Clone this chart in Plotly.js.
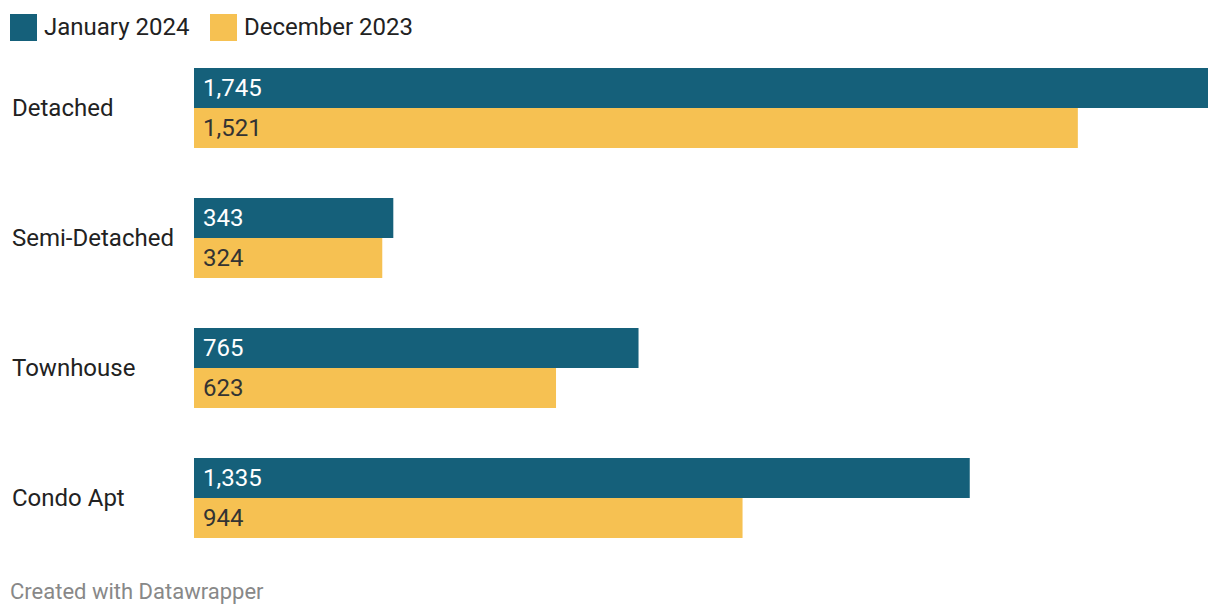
<!DOCTYPE html>
<html>
<head>
<meta charset="utf-8">
<script src="https://cdn.plot.ly/plotly-3.0.1.min.js"></script>
<style>
  html, body { margin: 0; padding: 0; background: #ffffff; }
  #chart { width: 1220px; height: 616px; }
</style>
</head>
<body>
<div id="chart"></div>
<script>
const categories = ["Detached", "Semi-Detached", "Townhouse", "Condo Apt"];
const seriesNames = ["January 2024", "December 2023"];
const jan2024 = [1745, 343, 765, 1335];
const dec2023 = [1521, 324, 623, 944];

const colors = ["#15607a", "#f6c152"];
const textColors = ["#ffffff", "#333333"];
const FONT = "Roboto, sans-serif";

const W = 1220, H = 616;
const M = { l: 194, r: 12, t: 43, b: 53 };
const PW = W - M.l - M.r, PH = H - M.t - M.b;
const px = x => (x - 2 - M.l) / PW;
const py = y => (H - M.b - y) / PH;
const rx = x => (x - M.l) / PW;

const traces = [jan2024, dec2023].map((vals, i) => ({
  type: "bar",
  orientation: "h",
  name: seriesNames[i],
  y: categories,
  x: vals,
  marker: { color: colors[i], line: { width: 0 } },
  texttemplate: "\u00a0%{x:,}",
  textposition: "inside",
  insidetextanchor: "start",
  textangle: 0,
  textfont: { family: FONT, size: 24, color: textColors[i] },
  constraintext: "none",
  hoverinfo: "skip",
  showlegend: false
}));

const annotations = categories.map(c => ({
  xref: "paper", yref: "y", x: px(12), y: c, xanchor: "left", yanchor: "middle",
  text: c, showarrow: false, font: { family: FONT, size: 24, color: "#222222" }
}));

const legendX = [10, 210];
const shapes = [];
seriesNames.forEach((n, i) => {
  shapes.push({
    type: "rect", xref: "paper", yref: "paper",
    x0: rx(legendX[i]), x1: rx(legendX[i] + 27), y0: py(41), y1: py(14),
    fillcolor: colors[i], line: { width: 0 }
  });
  annotations.push({
    xref: "paper", yref: "paper", x: px(legendX[i] + 34), y: py(27),
    xanchor: "left", yanchor: "middle", text: n, showarrow: false,
    font: { family: FONT, size: 24, color: "#222222" }
  });
});
annotations.push({
  xref: "paper", yref: "paper", x: px(10), y: py(591),
  xanchor: "left", yanchor: "middle", text: "Created with Datawrapper", showarrow: false,
  font: { family: FONT, size: 22, color: "#888888" }
});

const layout = {
  width: W, height: H,
  margin: M,
  paper_bgcolor: "#ffffff", plot_bgcolor: "#ffffff",
  barmode: "group", bargap: 50 / 130, bargroupgap: 0,
  showlegend: false,
  xaxis: { range: [0, 1745], visible: false, fixedrange: true },
  yaxis: { autorange: "reversed", showticklabels: false, showgrid: false, zeroline: false, showline: false, ticks: "" },
  shapes, annotations
};

Plotly.newPlot("chart", traces, layout, { displayModeBar: false, staticPlot: true });
</script>
</body>
</html>
